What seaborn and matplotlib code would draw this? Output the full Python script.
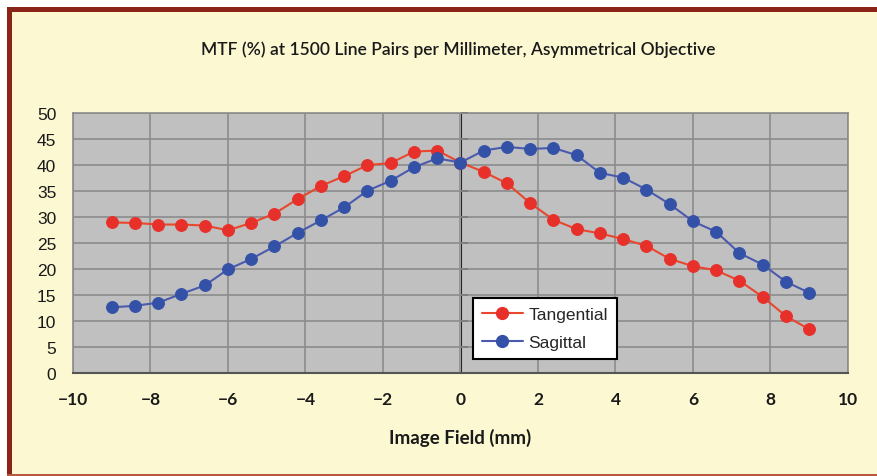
import matplotlib
matplotlib.use("Agg")
import matplotlib.pyplot as plt
from matplotlib.patches import Rectangle
from matplotlib.lines import Line2D
import numpy as np
import pandas as pd
import seaborn as sns

# ---- data ----
field_mm = [-9.0, -8.4, -7.8, -7.2, -6.6, -6.0, -5.4, -4.8, -4.2, -3.6, -3.0,
            -2.4, -1.8, -1.2, -0.6, 0.0, 0.6, 1.2, 1.8, 2.4, 3.0, 3.6, 4.2,
            4.8, 5.4, 6.0, 6.6, 7.2, 7.8, 8.4, 9.0]
tangential = [28.9, 28.8, 28.5, 28.5, 28.3, 27.4, 28.8, 30.6, 33.4, 35.9, 37.8,
              39.9, 40.3, 42.5, 42.7, 40.4, 38.6, 36.4, 32.6, 29.4, 27.6, 26.8,
              25.7, 24.4, 21.9, 20.5, 19.7, 17.7, 14.6, 10.9, 8.4]
sagittal = [12.6, 12.9, 13.5, 15.2, 16.8, 19.9, 21.9, 24.3, 26.9, 29.3, 31.8,
            35.0, 36.9, 39.5, 41.2, 40.4, 42.7, 43.4, 43.0, 43.2, 41.8, 38.4,
            37.5, 35.2, 32.4, 29.1, 27.1, 23.0, 20.8, 17.5, 15.4]
series_names = ["Tangential", "Sagittal"]
x_ticks = [-10, -8, -6, -4, -2, 0, 2, 4, 6, 8, 10]
y_ticks = [0, 5, 10, 15, 20, 25, 30, 35, 40, 45, 50]
title_text = "MTF (%) at 1500 Line Pairs per Millimeter, Asymmetrical Objective"
xlabel_text = "Image Field (mm)"

df = pd.concat([
    pd.DataFrame({"field": field_mm, "mtf": tangential, "series": series_names[0]}),
    pd.DataFrame({"field": field_mm, "mtf": sagittal, "series": series_names[1]}),
])

# ---- style ----
sns.set_style("white")
plt.rcParams["font.family"] = ["Liberation Sans", "DejaVu Sans"]

W, H = 878, 477
fig = plt.figure(figsize=(W / 100, H / 100), dpi=100)
fig.patch.set_facecolor("white")

def fr(x0, y0, x1, y1, color):
    fig.patches.append(Rectangle((x0 / W, 1 - y1 / H), (x1 - x0) / W, (y1 - y0) / H,
                                 transform=fig.transFigure, facecolor=color,
                                 edgecolor="none", zorder=-10))

cream = "#FBF8D2"
fr(7, 8, W, H, cream)
fr(7, 8, W, 13, "#8A2419")       # top band
fr(7, 8, 12, H, "#8A2419")       # left band
fr(7, H - 2, W, H, "#B9573F")    # bottom thin line

ax = fig.add_axes([73 / W, 1 - 374 / H, (848 - 73) / W, (374 - 113.5) / H])
ax.set_facecolor("#C0C0C0")

palette = {"Tangential": "#E8472E", "Sagittal": "#4A5AAE"}
marker_colors = {"Tangential": "#E8302A", "Sagittal": "#3451A8"}
sns.lineplot(data=df, x="field", y="mtf", hue="series", palette=palette,
             marker="o", markersize=8.5, linewidth=1.5, ax=ax, legend=False,
             zorder=3)
for line, name in zip(ax.lines, series_names):
    line.set_markerfacecolor(marker_colors[name])
    line.set_markeredgecolor(marker_colors[name])

ax.set_xlim(-10, 10)
ax.set_ylim(0, 50)
ax.set_xticks(x_ticks)
ax.set_yticks(y_ticks)
ax.grid(True, color="#8C8C8C", linewidth=1.2, zorder=0)
ax.set_axisbelow(True)
for s in ["top", "right", "left"]:
    ax.spines[s].set_color("#8C8C8C")
    ax.spines[s].set_linewidth(1.2)
ax.spines["bottom"].set_color("#555555")
ax.spines["bottom"].set_linewidth(1.5)

ax.tick_params(axis="x", direction="out", length=5, width=1.2, color="#555555",
               pad=8, labelsize=12.5)
ax.tick_params(axis="y", length=0, pad=12, labelsize=12.5)
for lab in ax.get_xticklabels():
    lab.set_fontfamily(["Lato", "DejaVu Sans"])
    lab.set_fontweight("bold")
    lab.set_color("#1a1a1a")
for lab in ax.get_yticklabels():
    lab.set_color("#1a1a1a")
ax.set_xlabel("")
ax.set_ylabel("")

# vertical axis line crossing at x = 0
sec = ax.secondary_yaxis(0.5)
sec.set_yticks(y_ticks)
sec.set_yticklabels([])
sec.tick_params(axis="y", direction="out", length=5, width=1.2, color="#222222",
                labelleft=False, labelright=False)
sec.spines["left"].set_color("#222222")
sec.spines["left"].set_linewidth(1.8)

# legend
handles = [Line2D([], [], color=palette[n], marker="o", markersize=8.5,
                  markerfacecolor=marker_colors[n], markeredgecolor=marker_colors[n],
                  linewidth=1.5)
           for n in series_names]
leg = ax.legend(handles, series_names, loc="lower left",
                bbox_to_anchor=(0.516, 0.054), borderaxespad=0, fontsize=12.5,
                frameon=True, fancybox=False, edgecolor="black", framealpha=1,
                handlelength=2.4, borderpad=0.5, labelspacing=0.75,
                handletextpad=0.3)
leg.get_frame().set_linewidth(1.5)
leg.set_zorder(5)

fig.text(458 / W, 1 - 50 / H, title_text, ha="center", va="center",
         fontsize=12.5, fontweight="semibold", family=["Lato", "DejaVu Sans"],
         color="#1a1a1a")
fig.text(460 / W, 1 - 438 / H, xlabel_text, ha="center", va="center",
         fontsize=13.5, fontweight="bold", family=["Lato", "DejaVu Sans"],
         color="#1a1a1a")

fig.savefig("out.png", dpi=100)
